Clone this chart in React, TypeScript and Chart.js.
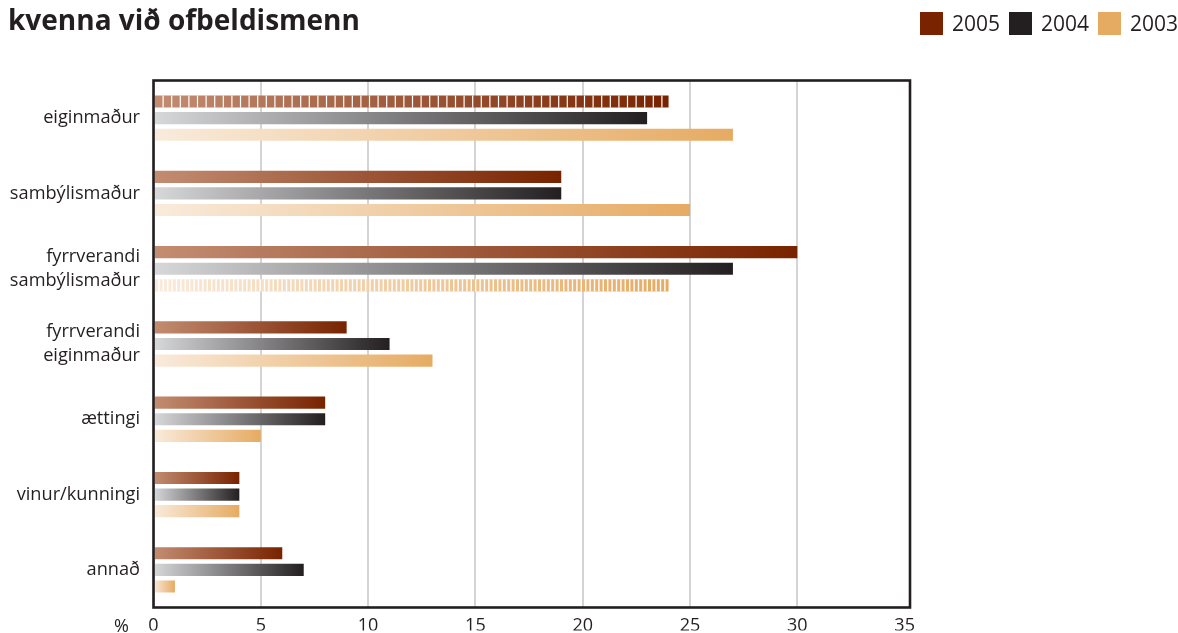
import React, { useEffect, useRef } from "react";
import { Chart, registerables } from "chart.js";

Chart.register(...registerables);

const titleText = "kvenna við ofbeldismenn";
const categories: (string | string[])[] = [
  "eiginmaður",
  "sambýlismaður",
  ["fyrrverandi", "sambýlismaður"],
  ["fyrrverandi", "eiginmaður"],
  "ættingi",
  "vinur/kunningi",
  "annað",
];
const seriesNames = ["2005", "2004", "2003"];
const values2005 = [24, 19, 30, 9, 8, 4, 6];
const values2004 = [23, 19, 27, 11, 8, 4, 7];
const values2003 = [27, 25, 24, 13, 5, 4, 1];
const xTicks = [0, 5, 10, 15, 20, 25, 30, 35];

const legendColors = ["#7a2300", "#231f20", "#e6ab63"];
const gradStart = ["#c38d72", "#d7d8da", "#f9ebdc"];
const gradEnd = ["#782300", "#231f20", "#e6ab63"];
// [datasetIndex, categoryIndex, period, gap]
const stripedBars: [number, number, number, number][] = [
  [0, 0, 8.6, 1.2],
  [2, 2, 4.4, 1.4],
];

const FONT = "'Open Sans', 'Noto Sans', sans-serif";
const TEXT = "#231f20";

function gradientFor(i: number) {
  return (ctx: any) => {
    const chart = ctx.chart;
    if (!chart.chartArea || ctx.type !== "data" || !chart.scales.x) return legendColors[i];
    const xs = chart.scales.x;
    const x0 = xs.getPixelForValue(0);
    const x1 = xs.getPixelForValue(ctx.raw);
    if (!isFinite(x0) || !isFinite(x1) || x1 - x0 < 1) return gradEnd[i];
    const g = chart.ctx.createLinearGradient(x0, 0, x1, 0);
    g.addColorStop(0, gradStart[i]);
    g.addColorStop(1, gradEnd[i]);
    return g;
  };
}

const decor = {
  id: "decor",
  beforeDraw(chart: any) {
    const c = chart.ctx;
    c.save();
    c.fillStyle = "#ffffff";
    c.fillRect(0, 0, chart.width, chart.height);
    c.restore();
  },
  afterDatasetsDraw(chart: any) {
    const c = chart.ctx;
    c.save();
    c.fillStyle = "#ffffff";
    for (const [ds, idx, period, gap] of stripedBars) {
      const el = chart.getDatasetMeta(ds).data[idx];
      if (!el) continue;
      const p = el.getProps(["x", "y", "base", "height"], true);
      const left = Math.min(p.base, p.x);
      const right = Math.max(p.base, p.x);
      const top = p.y - p.height / 2;
      for (let px = left + period; px < right - 1; px += period) {
        c.fillRect(px - gap / 2, top, gap, p.height);
      }
    }
    c.restore();
  },
  afterDraw(chart: any) {
    const c = chart.ctx;
    const a = chart.chartArea;
    c.save();
    // plot frame
    c.strokeStyle = TEXT;
    c.lineWidth = 2.6;
    c.strokeRect(a.left, a.top, a.right - a.left, a.bottom - a.top);
    // title
    c.fillStyle = TEXT;
    c.textBaseline = "alphabetic";
    c.textAlign = "left";
    c.font = `bold 28px ${FONT}`;
    c.fillText(titleText, 8, 30);
    // legend
    c.font = `21px ${FONT}`;
    const boxX = [920, 1009, 1098];
    seriesNames.forEach((name, i) => {
      c.fillStyle = legendColors[i];
      c.fillRect(boxX[i], 12, 23, 23);
      c.fillStyle = TEXT;
      c.fillText(name, boxX[i] + 32, 31);
    });
    // percent sign
    c.font = `18px ${FONT}`;
    c.textBaseline = "middle";
    c.fillText("%", 114, a.bottom + 19);
    c.restore();
  },
};

export default function App() {
  const ref = useRef<HTMLCanvasElement | null>(null);
  useEffect(() => {
    const canvas = ref.current;
    if (!canvas) return;
    const chart = new Chart(canvas, {
      type: "bar",
      data: {
        labels: categories as any,
        datasets: [values2005, values2004, values2003].map((vals, i) => ({
          label: seriesNames[i],
          data: vals,
          backgroundColor: gradientFor(i) as any,
          borderWidth: 0,
          categoryPercentage: 0.662,
          barPercentage: 0.73,
        })),
      },
      options: {
        indexAxis: "y",
        responsive: false,
        devicePixelRatio: 1,
        animation: false,
        layout: { padding: { left: 0, right: 268, top: 80.5, bottom: 0 } },
        plugins: {
          legend: { display: false },
          title: { display: false },
          tooltip: { enabled: false },
        },
        scales: {
          x: {
            type: "linear",
            min: 0,
            max: 35.25,
            afterBuildTicks(scale: any) {
              scale.ticks = xTicks.map((v) => ({ value: v }));
            },
            afterFit(scale: any) {
              scale.height = 23;
            },
            grid: {
              color: (ctx: any) =>
                ctx.tick && ctx.tick.value === 35 ? "rgba(0,0,0,0)" : "#d4d4d4",
              lineWidth: 2,
              drawTicks: false,
              tickLength: 0,
            },
            border: { display: false },
            ticks: {
              padding: 8,
              color: TEXT,
              font: { family: FONT, size: 18 },
              maxRotation: 0,
              autoSkip: false,
            },
          },
          y: {
            type: "category",
            afterFit(scale: any) {
              scale.width = 153.5;
            },
            grid: { display: false, drawTicks: false },
            border: { display: false },
            ticks: {
              padding: 13.5,
              color: TEXT,
              font: { family: FONT, size: 18.2, lineHeight: 1.32 },
              autoSkip: false,
            },
          },
        },
      },
      plugins: [decor],
    });
    return () => chart.destroy();
  }, []);
  return (
    <div style={{ position: "absolute", left: 0, top: 0, width: 1178, height: 633 }}>
      <canvas ref={ref} width={1178} height={633} style={{ display: "block" }} />
    </div>
  );
}
